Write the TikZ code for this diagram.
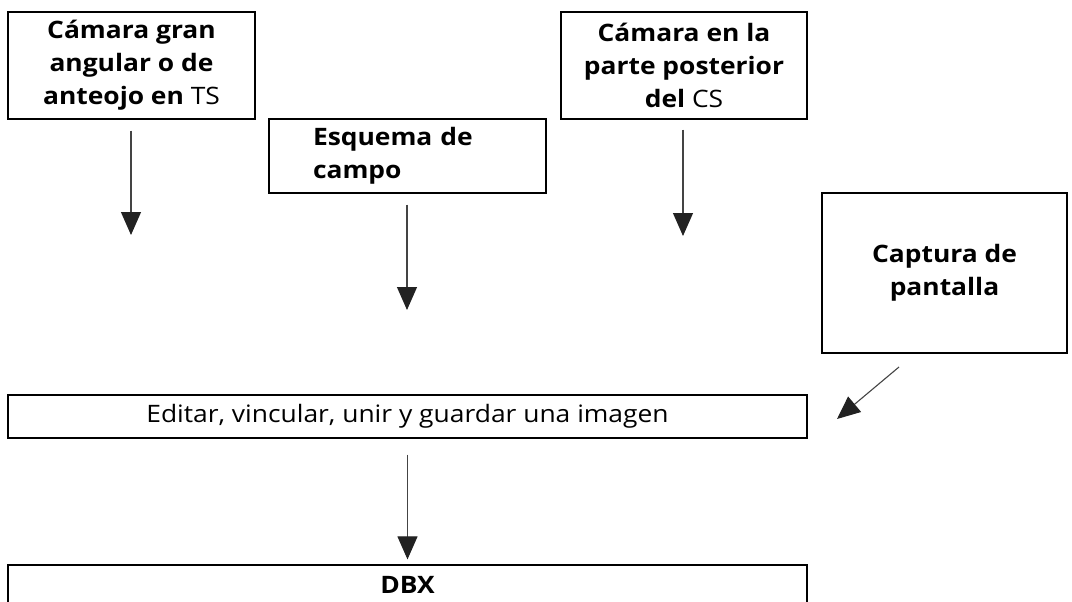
\documentclass[tikz,border=0pt]{standalone}
\usepackage{fontspec}
\setmainfont{Open Sans}[FakeStretch=1.1]
\usetikzlibrary{arrows.meta}
\definecolor{linegray}{HTML}{444444}
\definecolor{tipdark}{HTML}{222222}
\tikzset{
  box/.style={draw=black, line width=1.2pt, rectangle, inner sep=0pt, align=center,
    font=\fontsize{24}{33}\selectfont},
  flow/.style={draw=linegray, line width=1.1pt,
    -{Triangle[width=20pt,length=23pt,fill=tipdark,color=tipdark]}},
}
\begin{document}
\begin{tikzpicture}[x=1pt,y=-1pt]
\useasboundingbox (0,0) rectangle (1072,602);
\clip (0,0) rectangle (1072,602);
\node[box, minimum width=247pt, minimum height=107pt] (b1) at (131.5,65.5)
  {\textbf{Cámara gran}\\ \textbf{angular o de}\\ \textbf{anteojo en} TS};
\node[box, minimum width=277pt, minimum height=74pt, text width=189pt, align=left] (b2) at (407.5,156)
  {\textbf{Esquema de}\\ \textbf{campo}};
\node[box, minimum width=246pt, minimum height=107pt] (b3) at (684,65.5)
  {\textbf{Cámara en la}\\ \textbf{parte posterior}\\ \textbf{del} CS};
\node[box, minimum width=245pt, minimum height=160pt] (b4) at (944.5,273)
  {\textbf{Captura de}\\ \textbf{pantalla}};
\node[box, minimum width=799pt, minimum height=43pt] (b5) at (407.5,416.5)
  {Editar, vincular, unir y guardar una imagen};
\node[box, minimum width=799pt, minimum height=40pt] (b6) at (407.5,585)
  {\textbf{DBX}};
\coordinate (e1) at (131,235);
\coordinate (e2) at (407,310);
\coordinate (e3) at (683,236);
\coordinate (e4) at (837,419);
\draw[flow] ([yshift=-11pt]b1.south -| e1) -- (e1);
\draw[flow] ([yshift=-11pt]b2.south -| e2) -- (e2);
\draw[flow] ([yshift=-10pt]b3.south -| e3) -- (e3);
\draw[flow] (899,367) coordinate (s4) (s4) -- (e4);
\draw[flow] ([yshift=-16pt]b5.south) -- ([yshift=5pt]b6.north);
\end{tikzpicture}
\end{document}
